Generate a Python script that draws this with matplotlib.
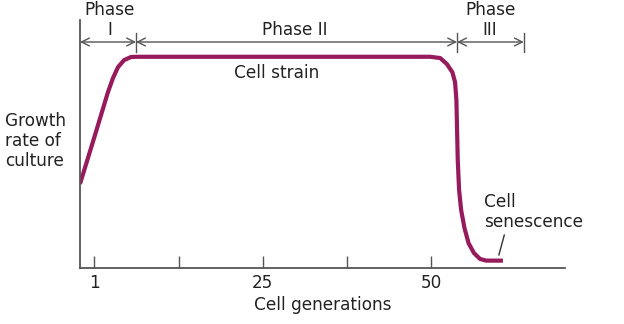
import matplotlib.pyplot as plt

plt.rcParams['font.family'] = ['DejaVu Sans']

# Growth curve of a cell strain (generations vs. relative growth rate)
generations = [-2.12, 0.10, 2.03, 2.77, 3.52, 4.41, 5.45, 6.34, 49.8, 51.3, 52.3,
               53.1, 53.5, 53.7, 53.8, 53.9, 54.1, 54.4, 54.9, 55.5, 56.3, 57.2,
               58.1, 60.6]
growth_rate = [39.8, 62.9, 83.3, 89.9, 95.1, 98.4, 99.9, 100, 100, 99.4, 96.5,
               92.7, 88.0, 79.5, 65.3, 51.1, 36.9, 27.5, 18.9, 11.8, 7.1, 4.3,
               3.5, 3.5]

tick_pos = [0, 12.5, 25, 37.5, 50]
tick_labels = ['1', '', '25', '', '50']

# phase boundaries along the top
phase_edges = [-2.12, 6.19, 53.8, 63.7]
phase_names = ['Phase\nI', 'Phase II', 'Phase\nIII']

line_color = '#961a5c'
gray = '#555555'
txt = '#222222'
fs = 12.2
ls = 1.17

fig = plt.figure(figsize=(6.24, 3.24), dpi=100)
ax = fig.add_axes([0.1282, 0.1728, 0.7772, 0.7654])

ax.plot(generations, growth_rate, color=line_color, lw=3.0,
        solid_capstyle='butt', solid_joinstyle='round')

ax.set_xlim(-2.12, 69.8)
ax.set_ylim(0, 117.4)

for s in ['top', 'right']:
    ax.spines[s].set_visible(False)
for s in ['left', 'bottom']:
    ax.spines[s].set_color(gray)
    ax.spines[s].set_linewidth(1.3)

ax.set_yticks([])
ax.set_xticks(tick_pos)
ax.set_xticklabels(tick_labels, fontsize=fs, color=txt)
ax.tick_params(axis='x', direction='in', length=9, width=1, color=gray, pad=4)

ax.set_xlabel('Cell generations', fontsize=fs, color=txt, labelpad=3)

# y label as left-aligned block of text
fig.text(5 / 624, 1 - 141 / 324, 'Growth\nrate of\nculture', ha='left', va='center',
         fontsize=fs, color=txt, linespacing=ls)

# phase arrows
arrow_y = 107
for a, b in zip(phase_edges[:-1], phase_edges[1:]):
    ax.annotate('', xy=(b, arrow_y), xytext=(a, arrow_y),
                arrowprops=dict(arrowstyle='<->', color=gray, lw=1.0,
                                shrinkA=0, shrinkB=0, mutation_scale=14),
                annotation_clip=False)
for e in phase_edges[1:]:
    ax.plot([e, e], [102.2, 111.2], color=gray, lw=1.0, clip_on=False)

ax.text(2.33, 117.3, phase_names[0], ha='center', va='center', fontsize=fs,
        color=txt, linespacing=ls, clip_on=False)
ax.text(29.7, 112.6, phase_names[1], ha='center', va='center', fontsize=fs,
        color=txt, clip_on=False)
ax.text(58.7, 117.3, phase_names[2], ha='center', va='center', fontsize=fs,
        color=txt, linespacing=ls, clip_on=False)

ax.text(27.1, 92.3, 'Cell strain', ha='center', va='center', fontsize=fs,
        color=txt)

ax.text(57.8, 26.5, 'Cell\nsenescence', ha='left', va='center', fontsize=fs,
        color=txt, linespacing=ls)
ax.plot([60.8, 60.0], [15.6, 6.2], color='#333333', lw=1.0)

fig.savefig('out.png', dpi=100)
